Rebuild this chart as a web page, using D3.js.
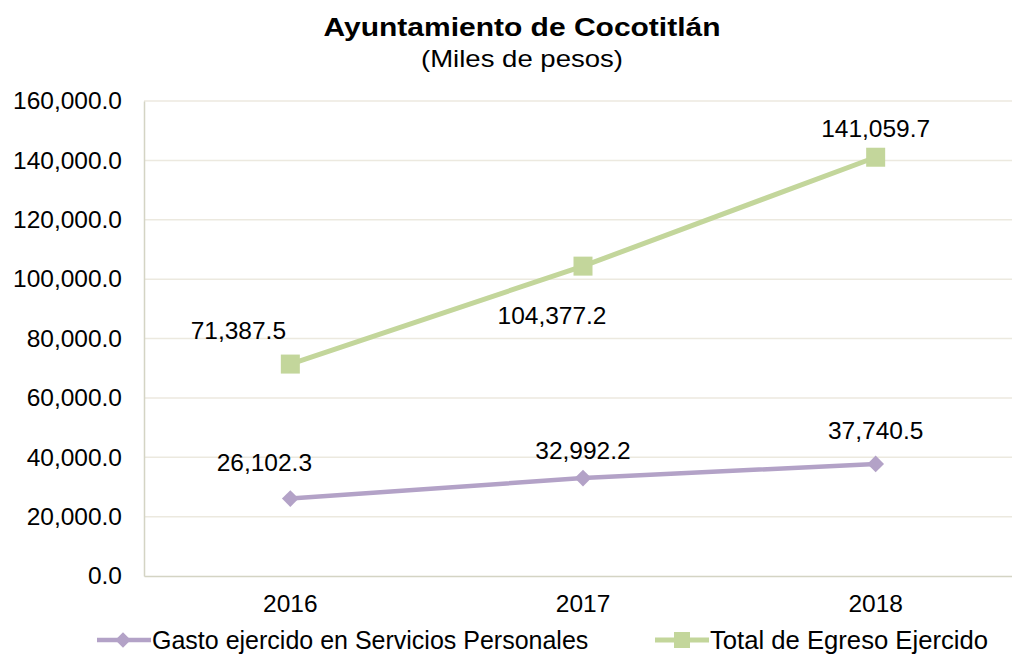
<!DOCTYPE html>
<html>
<head>
<meta charset="utf-8">
<script src="https://cdn.jsdelivr.net/npm/d3@7"></script>
<style>
  body { margin: 0; background: #fff; }
  svg { display: block; font-family: "Liberation Sans", Arial, sans-serif; }
</style>
</head>
<body>
<div id="chart"></div>
<script>
// data
var years = ['2016', '2017', '2018'];
var gastoServicios = [26102.3, 32992.2, 37740.5];
var totalEgreso = [71387.5, 104377.2, 141059.7];
var yTicks = [0, 20000, 40000, 60000, 80000, 100000, 120000, 140000, 160000];
var seriesNames = ['Gasto ejercido en Servicios Personales', 'Total de Egreso Ejercido'];

var width = 1012, height = 654;
var margin = { left: 144, top: 101, bottom: 78 };
var plotRight = 1022;
var fs = 24.5;

var svg = d3.select('#chart').append('svg')
  .attr('width', width)
  .attr('height', height);

var x = d3.scaleBand().domain(years).range([margin.left, plotRight]);
var y = d3.scaleLinear().domain([0, 160000]).range([height - margin.bottom, margin.top]);

var fmt = d3.format(',.1f');

// title
svg.append('text').attr('x', 522).attr('y', 36)
  .attr('text-anchor', 'middle').attr('font-size', 26).attr('font-weight', 'bold')
  .attr('textLength', 397).attr('lengthAdjust', 'spacingAndGlyphs')
  .text('Ayuntamiento de Cocotitlán');
svg.append('text').attr('x', 522).attr('y', 67)
  .attr('text-anchor', 'middle').attr('font-size', 24)
  .attr('textLength', 202).attr('lengthAdjust', 'spacingAndGlyphs')
  .text('(Miles de pesos)');

// gridlines
svg.append('g').selectAll('line')
  .data(yTicks.slice(1))
  .enter().append('line')
  .attr('x1', margin.left).attr('x2', plotRight)
  .attr('y1', function(d) { return y(d); })
  .attr('y2', function(d) { return y(d); })
  .attr('stroke', '#ECE9DF').attr('stroke-width', 1.5);

// y axis
var yAxis = svg.append('g')
  .attr('transform', 'translate(' + margin.left + ',0)')
  .call(d3.axisLeft(y).tickValues(yTicks).tickFormat(fmt).tickSize(0).tickPadding(22));
yAxis.select('.domain').attr('stroke', '#D4D4C4').attr('stroke-width', 1.5);
yAxis.selectAll('text').attr('font-size', fs).attr('fill', '#000')
  .attr('font-family', '"Liberation Sans", Arial, sans-serif');

// x axis
var xAxis = svg.append('g')
  .attr('transform', 'translate(0,' + y(0) + ')')
  .call(d3.axisBottom(x).tickSize(0).tickPadding(19));
xAxis.select('.domain').attr('stroke', '#D4D4C4').attr('stroke-width', 1.5);
xAxis.selectAll('text').attr('font-size', fs).attr('fill', '#000')
  .attr('font-family', '"Liberation Sans", Arial, sans-serif');

function cx(i) { return x(years[i]) + x.bandwidth() / 2; }

var line = d3.line()
  .x(function(d, i) { return cx(i); })
  .y(function(d) { return y(d); });

var purple = '#B3A2C7', green = '#C3D69B';

// purple series
svg.append('path').datum(gastoServicios)
  .attr('d', line).attr('fill', 'none')
  .attr('stroke', purple).attr('stroke-width', 4.5);
svg.append('g').selectAll('path')
  .data(gastoServicios).enter().append('path')
  .attr('d', d3.symbol().type(d3.symbolSquare).size(140))
  .attr('transform', function(d, i) { return 'translate(' + cx(i) + ',' + y(d) + ') rotate(45)'; })
  .attr('fill', purple);

// green series
svg.append('path').datum(totalEgreso)
  .attr('d', line).attr('fill', 'none')
  .attr('stroke', green).attr('stroke-width', 5);
svg.append('g').selectAll('rect')
  .data(totalEgreso).enter().append('rect')
  .attr('x', function(d, i) { return cx(i) - 9.5; })
  .attr('y', function(d) { return y(d) - 9.5; })
  .attr('width', 19).attr('height', 19)
  .attr('fill', green);

// data labels
var gastoOffsets = [[-26, -28], [0, -19], [0, -25]];
var totalOffsets = [[-52, -25], [-31, 58], [0, -20]];

svg.append('g').selectAll('text')
  .data(gastoServicios).enter().append('text')
  .attr('x', function(d, i) { return cx(i) + gastoOffsets[i][0]; })
  .attr('y', function(d, i) { return y(d) + gastoOffsets[i][1]; })
  .attr('text-anchor', 'middle').attr('font-size', fs)
  .text(function(d) { return fmt(d); });

svg.append('g').selectAll('text')
  .data(totalEgreso).enter().append('text')
  .attr('x', function(d, i) { return cx(i) + totalOffsets[i][0]; })
  .attr('y', function(d, i) { return y(d) + totalOffsets[i][1]; })
  .attr('text-anchor', 'middle').attr('font-size', fs)
  .text(function(d) { return fmt(d); });

// legend
var legend = svg.append('g').attr('transform', 'translate(0,640)');
var lg1 = legend.append('g').attr('transform', 'translate(97,0)');
lg1.append('line').attr('x1', 0).attr('x2', 54).attr('stroke', purple).attr('stroke-width', 4.5);
lg1.append('path').attr('d', d3.symbol().type(d3.symbolSquare).size(120))
  .attr('transform', 'translate(26,0) rotate(45)').attr('fill', purple);
lg1.append('text').attr('x', 55).attr('y', 9).attr('font-size', 25).text(seriesNames[0]);

var lg2 = legend.append('g').attr('transform', 'translate(655,0)');
lg2.append('line').attr('x1', 0).attr('x2', 54).attr('stroke', green).attr('stroke-width', 5);
lg2.append('rect').attr('x', 19).attr('y', -8).attr('width', 16).attr('height', 16).attr('fill', green);
lg2.append('text').attr('x', 55).attr('y', 9).attr('font-size', 25)
  .attr('textLength', 278).attr('lengthAdjust', 'spacingAndGlyphs').text(seriesNames[1]);
</script>
</body>
</html>
